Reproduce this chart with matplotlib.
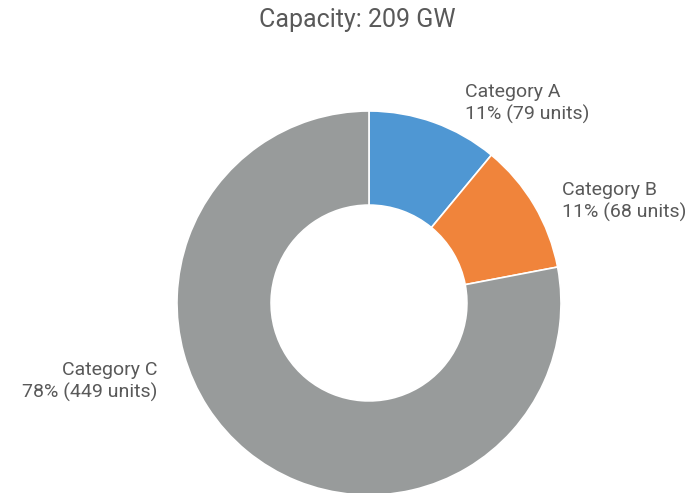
import matplotlib
matplotlib.use("Agg")
import matplotlib.pyplot as plt

plt.rcParams['font.family'] = ['Roboto', 'DejaVu Sans']

categories = ['Category A', 'Category B', 'Category C']
shares = [11, 11, 78]          # percent, as labelled
units = [79, 68, 449]
colors = ['#4f97d3', '#f0843b', '#989b9b']
title = 'Capacity: 209 GW'

W, H = 695, 493
fig = plt.figure(figsize=(W / 100, H / 100), dpi=100)
cx, cy, r = 369, 303, 192
ax = fig.add_axes([(cx - r) / W, (H - cy - r) / H, 2 * r / W, 2 * r / H])

ax.pie(shares, colors=colors, startangle=90, counterclock=False, radius=1,
       wedgeprops=dict(width=0.49, edgecolor='white', linewidth=1.2))
ax.set_xlim(-1, 1)
ax.set_ylim(-1, 1)
ax.set_aspect('equal')
ax.axis('off')

txt = '#595959'
label_pos = [(0.5, 1.04, 'left'), (1.005, 0.53, 'left'), (-1.10, -0.41, 'right')]
for (x, y, ha), c, s, u in zip(label_pos, categories, shares, units):
    ax.text(x, y, f'{c}\n{s}% ({u} units)', ha=ha, va='center', fontsize=14,
            color=txt, linespacing=1.25, clip_on=False)

fig.text(357 / W, 1 - 20 / H, title, ha='center', va='center', fontsize=18, color=txt)

fig.savefig('out.png', dpi=100)
